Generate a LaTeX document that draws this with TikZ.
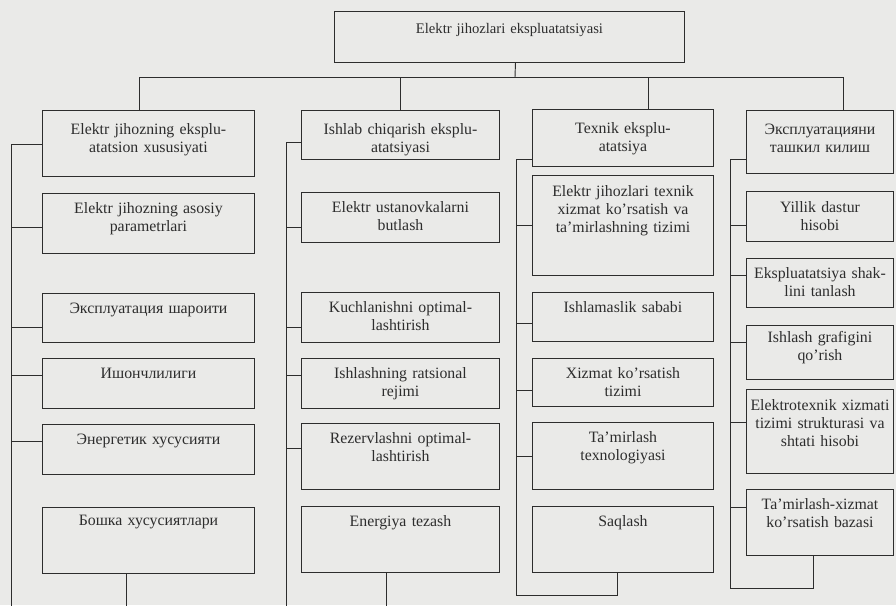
\documentclass[tikz,border=0pt]{standalone}
\usepackage{fontspec}
\setmainfont{Liberation Serif}
\usepackage{tikz}
\definecolor{paper}{RGB}{234,234,232}
\definecolor{ink}{RGB}{45,45,45}
\newcommand{\boxfont}{\fontsize{13.5}{15.4}\selectfont}
\newcommand{\titlefont}{\fontsize{12.5}{15.4}\selectfont}

\begin{document}
\begin{tikzpicture}[x=0.03cm, y=-0.03cm, line width=0.8pt, color=ink]
 \tikzstyle{every node}=[font=\boxfont]
 \tikzstyle{cell}=[draw, anchor=north west, inner sep=0pt, align=center, text height=0.6cm]
 \tikzstyle{head}=[cell, text height=0.72cm]
 \tikzstyle{colA}=[text width=6.36cm]
 \tikzstyle{colB}=[text width=5.94cm]
 \tikzstyle{colC}=[text width=5.43cm]
 \tikzstyle{colD}=[text width=4.41cm]
 \fill[paper] (0,0) rectangle (896,605);
 \useasboundingbox (0,0) rectangle (896,605);
 \clip (0,0) rectangle (896,605);

 % top
 \node[cell, font=\titlefont, text height=0.66cm, text depth=0.87cm, text width=10.5cm] (top) at (334,11) {Elektr jihozlari ekspluatatsiyasi};
 \coordinate (bus) at (515,77);

 % column 1
 \node[head, colA, text depth=1.26cm] (c1h) at (42,110) {Elektr jihozning eksplu-\\atatsion xususiyati};
 \node[cell, colA, text depth=1.2cm]  (c1a) at (42,193) {Elektr jihozning asosiy\\parametrlari};
 \node[cell, colA, text depth=0.87cm] (c1b) at (42,293) {Эксплуатация шароити};
 \node[cell, colA, text depth=0.9cm]  (c1c) at (42,358) {Ишончлилиги};
 \node[cell, colA, text depth=0.9cm]  (c1d) at (42,424) {Энергетик хусусияти};
 \node[cell, colA, text height=0.54cm, text depth=1.44cm] (c1e) at (42,507) {Бошка хусусиятлари};
 \coordinate (t1) at (11,144);
 \coordinate (e1) at (11,620);

 % column 2
 \node[head, colB, text depth=0.75cm] (c2h) at (301,110) {Ishlab chiqarish eksplu-\\atatsiyasi};
 \node[cell, colB, text depth=0.9cm]  (c2a) at (301,192) {Elektr ustanovkalarni\\butlash};
 \node[cell, colB, text depth=0.9cm]  (c2b) at (301,292) {Kuchlanishni optimal-\\lashtirish};
 \node[cell, colB, text depth=0.9cm]  (c2c) at (301,358) {Ishlashning ratsional\\rejimi};
 \node[cell, colB, text depth=1.38cm] (c2d) at (301,423) {Rezervlashni optimal-\\lashtirish};
 \node[cell, colB, text depth=1.38cm] (c2e) at (301,506) {Energiya tezash};
 \coordinate (t2) at (286,142);
 \coordinate (e2) at (286,620);

 % column 3
 \node[head, colC, text depth=0.99cm] (c3h) at (532,109) {Texnik eksplu-\\atatsiya};
 \node[cell, colC, text height=0.63cm, text depth=2.37cm] (c3a) at (532,175) {Elektr jihozlari texnik\\xizmat ko’rsatish va\\ta’mirlashning tizimi};
 \node[cell, colC, text depth=0.87cm] (c3b) at (532,292) {Ishlamaslik sababi};
 \node[cell, colC, text depth=0.84cm] (c3c) at (532,358) {Xizmat ko’rsatish\\tizimi};
 \node[cell, colC, text depth=1.41cm] (c3d) at (532,422) {Ta’mirlash\\texnologiyasi};
 \node[cell, colC, text depth=1.38cm] (c3e) at (532,506) {Saqlash};
 \coordinate (t3) at (516,159);
 \coordinate (e3) at (516,595);

 % column 4
 \node[head, colD, text depth=1.17cm] (c4h) at (746,110) {Эксплуатацияни\\ташкил килиш};
 \node[cell, colD, text height=0.63cm, text depth=0.87cm] (c4a) at (746,191) {Yillik dastur\\hisobi};
 \node[cell, colD, text depth=0.87cm] (c4b) at (746,258) {Ekspluatatsiya shak-\\lini tanlash};
 \node[cell, colD, text height=0.51cm, text depth=1.11cm] (c4c) at (746,325) {Ishlash grafigini\\qo’rish};
 \node[cell, colD, text height=0.63cm, text depth=1.89cm] (c4d) at (746,389) {Elektrotexnik xizmati\\tizimi strukturasi va\\shtati hisobi};
 \node[cell, colD, text depth=1.38cm] (c4e) at (746,489) {Ta’mirlash-xizmat\\ko’rsatish bazasi};
 \coordinate (t4) at (730,159);
 \coordinate (e4) at (730,588);

 % top bus
 \draw ([xshift=0.18cm]top.south) -- (bus);
 \draw ([xshift=-0.27cm]c1h.north) |- (bus);
 \draw (c2h.north) |- (bus);
 \draw ([xshift=0.77cm]c3h.north) |- (bus);
 \draw ([xshift=0.7cm]c4h.north) |- (bus);

 % column 1 lines
 \draw (t1 -| c1h.west) -- (t1) -- (e1);
 \draw (t1) |- ([yshift=-0.12cm]c1a.west);
 \draw (t1) |- ([yshift=-0.29cm]c1b.west);
 \draw (t1) |- ([yshift=0.24cm]c1c.west);
 \draw (t1) |- ([yshift=0.24cm]c1d.west);
 \draw ([xshift=-0.66cm]c1e.south) |- (e1);

 % column 2 lines
 \draw (t2 -| c2h.west) -- (t2) -- (e2);
 \draw (t2) |- ([yshift=-0.3cm]c2a.west);
 \draw (t2) |- ([yshift=-0.3cm]c2b.west);
 \draw (t2) |- ([yshift=0.24cm]c2c.west);
 \draw (t2) |- ([yshift=0.24cm]c2d.west);
 \draw ([xshift=-0.42cm]c2e.south) |- (e2);

 % column 3 lines
 \draw (t3 -| c3h.west) -- (t3) -- (e3);
 \draw (t3) |- (c3a.west);
 \draw (t3) |- ([yshift=-0.2cm]c3b.west);
 \draw (t3) |- ([yshift=-0.24cm]c3c.west);
 \draw (t3) |- (c3d.west);
 \draw ([xshift=-0.17cm]c3e.south) |- (e3);

 % column 4 lines
 \draw (t4 -| c4h.west) -- (t4) -- (e4);
 \draw (t4) |- ([yshift=-0.27cm]c4a.west);
 \draw (t4) |- ([yshift=0.22cm]c4b.west);
 \draw (t4) |- ([yshift=0.3cm]c4c.west);
 \draw (t4) |- ([yshift=0.27cm]c4d.west);
 \draw (t4) |- ([yshift=0.45cm]c4e.west);
 \draw ([xshift=-0.2cm]c4e.south) |- (e4);
\end{tikzpicture}
\end{document}
